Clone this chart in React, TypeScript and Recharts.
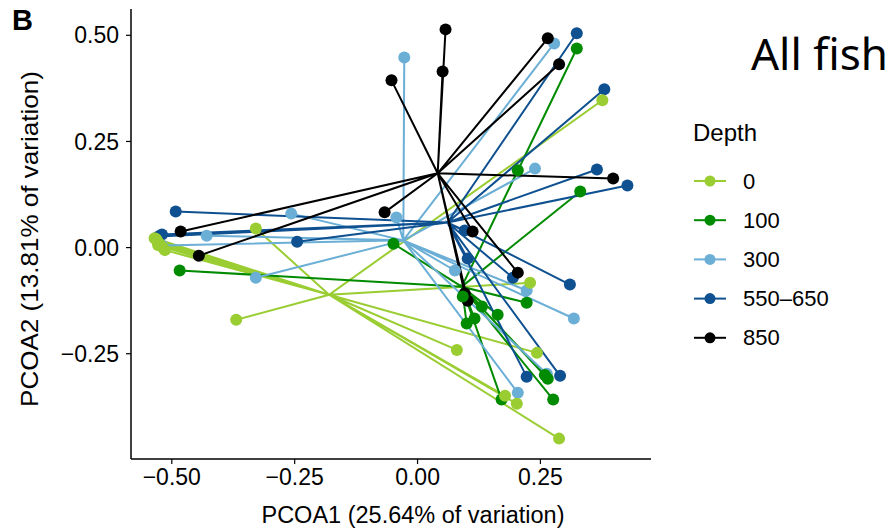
import React from 'react';
import { ScatterChart, Scatter, XAxis, YAxis } from 'recharts';

// PCoA scores, one list per depth group
const depthLabels = ['0', '100', '300', '550\u2013650', '850'];
const depthColors = ['#9ACD32', '#008B00', '#6BAED6', '#0E5090', '#000000'];

// group centroids (where the spider legs meet)
const centroids: [number, number][] = [
  [-0.18, -0.111],
  [0.09, -0.092],
  [-0.029, 0.017],
  [0.061, 0.059],
  [0.041, 0.175],
];

const depth0: [number, number][] = [
  [-0.535, 0.022], [-0.53, 0.016], [-0.526, 0.01], [-0.52, 0.002], [-0.514, -0.006], [-0.532, 0.02],
  [-0.528, 0.006], [-0.329, 0.045], [-0.369, -0.17], [0.376, 0.347], [0.229, -0.083], [0.08, -0.241],
  [0.243, -0.248], [0.178, -0.349], [0.202, -0.368], [0.288, -0.45],
];

const depth100: [number, number][] = [
  [-0.484, -0.054], [-0.049, 0.009], [0.324, 0.469], [0.204, 0.182], [0.331, 0.132],
  [0.222, -0.13], [0.163, -0.158], [0.131, -0.139], [0.1, -0.179], [0.116, -0.167],
  [0.092, -0.115], [0.171, -0.358], [0.265, -0.309], [0.276, -0.358], [0.259, -0.3],
];

const depth300: [number, number][] = [
  [-0.027, 0.448], [0.278, 0.481], [0.239, 0.186], [-0.257, 0.08], [-0.329, -0.071],
  [-0.52, 0.005], [-0.429, 0.028], [-0.043, 0.071], [0.222, -0.101], [0.318, -0.167],
  [0.204, -0.342], [0.076, -0.054], [0.263, -0.297],
];

const depth550: [number, number][] = [
  [0.324, 0.505], [0.38, 0.373], [0.365, 0.184], [0.427, 0.146], [-0.492, 0.085],
  [-0.52, 0.031], [-0.527, 0.026], [-0.245, 0.014], [0.096, 0.04], [0.102, -0.026],
  [0.194, -0.071], [0.31, -0.087], [0.222, -0.304], [0.29, -0.302],
];

const depth850: [number, number][] = [
  [0.057, 0.514], [0.051, 0.415], [-0.053, 0.394], [0.265, 0.493], [0.288, 0.432],
  [0.398, 0.163], [-0.067, 0.083], [-0.482, 0.038], [-0.445, -0.019], [0.112, 0.038],
  [0.204, -0.059], [0.096, -0.108], [0.102, -0.125],
];

const groupPoints = [depth0, depth100, depth300, depth550, depth850];

const xTicks = [-0.5, -0.25, 0, 0.25];
const yTicks = [-0.25, 0, 0.25, 0.5];

const fmt = (v: number) => (v < 0 ? '\u2212' : '') + Math.abs(v).toFixed(2);

const toRow = ([x, y]: [number, number]) => ({ x, y });

// centroid -> point -> centroid -> point ... so one joint line draws all legs
const spider = (i: number) => groupPoints[i].flatMap((p) => [toRow(centroids[i]), toRow(p)]);

const pointOrder = [2, 3, 4, 1, 0];

const Empty = () => <g />;

const makeDot = (color: string) => (props: any) => (
  <circle cx={props.cx} cy={props.cy} r={6} fill={color} />
);

export default function App() {
  const font = '"Liberation Sans", Arial, sans-serif';
  return (
    <div style={{ position: 'absolute', left: 0, top: 0, width: 892, height: 530, background: '#fff', fontFamily: font }}>
      <ScatterChart width={892} height={530} margin={{ top: 9, right: 241, bottom: 31, left: 71 }}>
        <XAxis
          type="number"
          dataKey="x"
          domain={[-0.583, 0.475]}
          ticks={xTicks}
          tickFormatter={fmt}
          allowDataOverflow
          height={40}
          tickSize={5}
          tickMargin={5}
          tick={{ fill: '#000', fontSize: 23 }}
          tickLine={{ stroke: '#000', strokeWidth: 1.2 }}
          axisLine={{ stroke: '#000', strokeWidth: 1.5 }}
        />
        <YAxis
          type="number"
          dataKey="y"
          domain={[-0.498, 0.562]}
          ticks={yTicks}
          tickFormatter={fmt}
          allowDataOverflow
          width={60}
          tickSize={5}
          tickMargin={7}
          tick={{ fill: '#000', fontSize: 23 }}
          tickLine={{ stroke: '#000', strokeWidth: 1.2 }}
          axisLine={{ stroke: '#000', strokeWidth: 1.5 }}
        />
        {depthLabels.map((d, i) => (
          <Scatter
            key={'leg' + d}
            data={spider(i)}
            line={{ stroke: depthColors[i], strokeWidth: 2 }}
            lineType="joint"
            shape={Empty}
            isAnimationActive={false}
          />
        ))}
        {pointOrder.map((i) => (
          <Scatter
            key={'pt' + depthLabels[i]}
            data={groupPoints[i].map(toRow)}
            fill={depthColors[i]}
            shape={makeDot(depthColors[i])}
            isAnimationActive={false}
          />
        ))}
      </ScatterChart>
      <svg width={892} height={530} style={{ position: 'absolute', left: 0, top: 0, pointerEvents: 'none' }}>
        <text x={12} y={30} fontSize={29} fontWeight="bold" fontFamily={font}>B</text>
        <text x={751} y={70} fontSize={44} fontFamily='"Noto Sans", sans-serif'>All fish</text>
        <text x={413} y={523} fontSize={23.5} textAnchor="middle" fontFamily={font}>
          PCOA1 (25.64% of variation)
        </text>
        <text
          x={38}
          y={239}
          fontSize={24}
          textAnchor="middle"
          fontFamily={font}
          textLength={336}
          lengthAdjust="spacingAndGlyphs"
          transform="rotate(-90 38 239)"
        >
          PCOA2 (13.81% of variation)
        </text>
        <text x={693} y={141} fontSize={24} fontFamily={font}>Depth</text>
        {depthLabels.map((d, i) => {
          const cy = 181 + i * 39.2;
          return (
            <g key={'lg' + d}>
              <line x1={694} x2={726} y1={cy} y2={cy} stroke={depthColors[i]} strokeWidth={2} />
              <circle cx={710} cy={cy} r={5.5} fill={depthColors[i]} />
              <text x={743} y={cy + 7.5} fontSize={22} fontFamily={font}>{d}</text>
            </g>
          );
        })}
      </svg>
    </div>
  );
}
